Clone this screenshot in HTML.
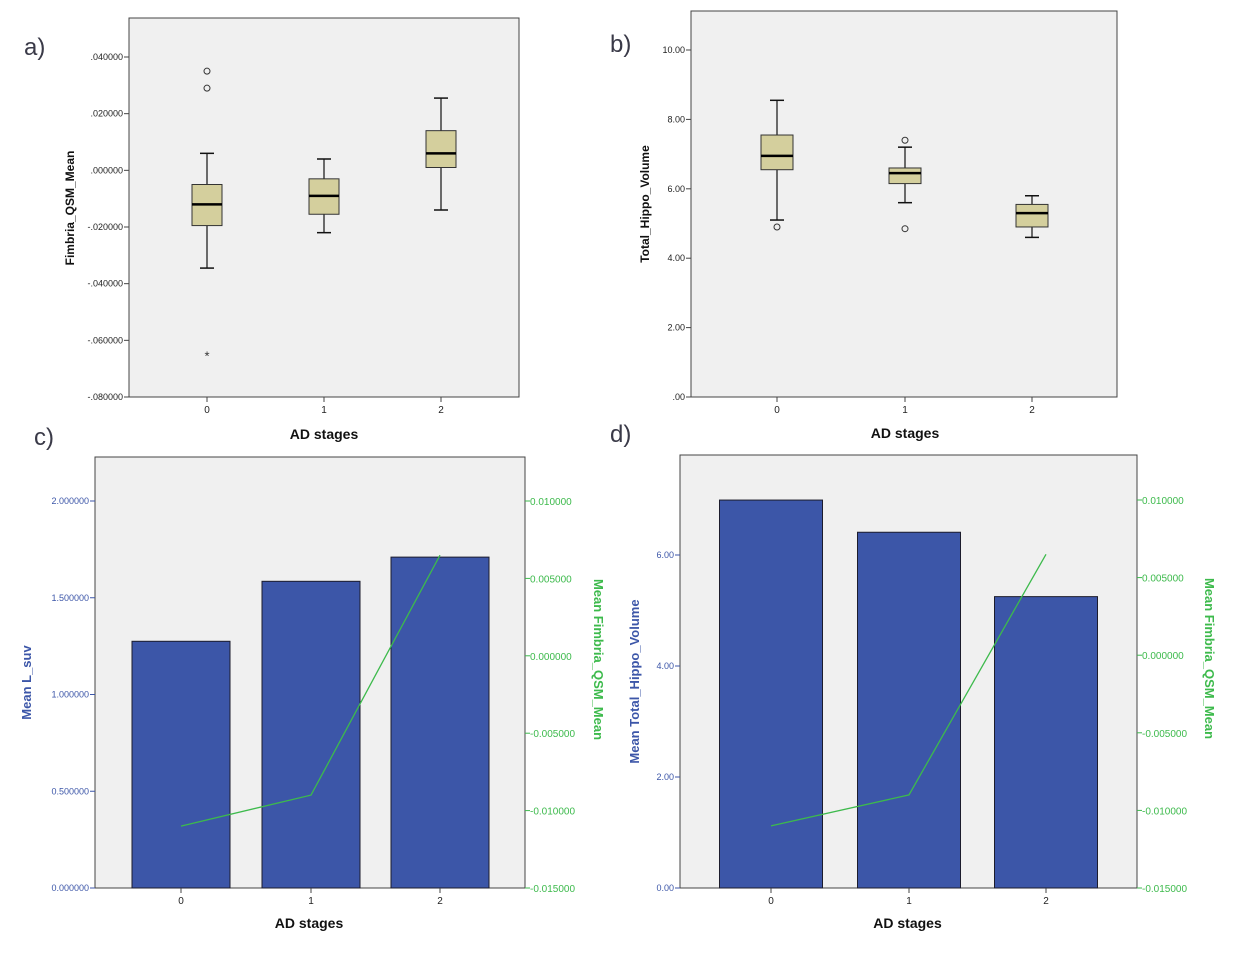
<!DOCTYPE html>
<html><head><meta charset="utf-8"><style>
html,body{margin:0;padding:0;background:#fff;width:1239px;height:954px;overflow:hidden;font-family:"Liberation Sans",sans-serif}
svg{display:block}
</style></head><body>
<svg id="s" width="1239" height="954" xmlns="http://www.w3.org/2000/svg"></svg>
<script>
// ---- data ----
const categories = ["0","1","2"];
// panel a: Fimbria_QSM_Mean boxplots
const aTicks = [0.04,0.02,0,-0.02,-0.04,-0.06,-0.08];
const aTickLabels = [".040000",".020000",".000000","-.020000","-.040000","-.060000","-.080000"];
const aQ1 = [-0.0195,-0.0155,0.001];
const aMed = [-0.012,-0.009,0.006];
const aQ3 = [-0.005,-0.003,0.014];
const aLo = [-0.0345,-0.022,-0.014];
const aHi = [0.006,0.004,0.0255];
const aOutliers = [[0.035,0.029],[],[]];
const aExtremes = [[-0.065],[],[]];
// panel b: Total_Hippo_Volume boxplots
const bTicks = [10,8,6,4,2,0];
const bTickLabels = ["10.00","8.00","6.00","4.00","2.00",".00"];
const bQ1 = [6.55,6.15,4.9];
const bMed = [6.95,6.45,5.3];
const bQ3 = [7.55,6.6,5.55];
const bLo = [5.1,5.6,4.6];
const bHi = [8.55,7.2,5.8];
const bOutliers = [[4.9],[7.4,4.85],[]];
// panel c: Mean L_suv bars + Fimbria line
const cBars = [1.275,1.585,1.71];
const cTicks = [2,1.5,1,0.5,0];
const cTickLabels = ["2.000000","1.500000","1.000000","0.500000","0.000000"];
// panel d: Mean Total_Hippo_Volume bars + Fimbria line
const dBars = [6.99,6.41,5.25];
const dTicks = [6,4,2,0];
const dTickLabels = ["6.00","4.00","2.00","0.00"];
// shared fimbria mean line
const qsmLine = [-0.011,-0.009,0.0065];
const rTicks = [0.01,0.005,0,-0.005,-0.01,-0.015];
const rTickLabels = ["0.010000","0.005000","0.000000","-0.005000","-0.010000","-0.015000"];

const NS="http://www.w3.org/2000/svg";
const svg=document.getElementById('s');
function mk(tag,attrs,parent,text){const e=document.createElementNS(NS,tag);for(const k in attrs)e.setAttribute(k,attrs[k]);if(text!==undefined)e.textContent=text;(parent||svg).appendChild(e);return e;}
function lin(d0,d1,r0,r1){return v=>r0+(v-d0)*(r1-r0)/(d1-d0);}

function frame(g,L,T,R,B){
  const r=mk('rect',{x:L,y:T,width:R-L,height:B-T,fill:'#f0f0f0',stroke:'#444','stroke-width':1},g);
  
  
}
function yAxis(g,y,ticks,labels,x,color,name){
  ticks.forEach((t,i)=>{
    mk('line',{x1:x-5,x2:x,y1:y(t),y2:y(t),stroke:color==='#222'?'#444':color},g);
    const tx=mk('text',{x:x-6,y:y(t)+3,'font-size':9,'text-anchor':'end',fill:color},g,labels[i]);
    
    
  });
}
function rAxis(g,y,x){
  rTicks.forEach((t,i)=>{
    mk('line',{x1:x,x2:x+5,y1:y(t),y2:y(t),stroke:'#3dba4c'},g);
    const tx=mk('text',{x:x+5,y:y(t)+4,'font-size':10,fill:'#3dba4c'},g,rTickLabels[i]);
    
    
  });
}
function xAxis(g,xs,B){
  categories.forEach((c,i)=>{
    mk('line',{x1:xs[i],x2:xs[i],y1:B,y2:B+5,stroke:'#444'},g);
    const tx=mk('text',{x:xs[i],y:B+16,'font-size':10,'text-anchor':'middle',fill:'#222'},g,c);
    
    
  });
}
function title(g,x,y,txt,rot,color,size,name){
  const t=mk('text',{x:x,y:y,'font-size':size,'font-weight':'bold','text-anchor':'middle',fill:color,transform:rot?`rotate(${rot} ${x} ${y})`:''},g,txt);
  
  
}
function panelLabel(x,y,t){
  const e=mk('text',{x:x,y:y,'font-size':24,fill:'#3a3a48'},svg,t);
  
  
}
function boxes(g,y,xs,w,q1,med,q3,lo,hi){
  categories.forEach((c,i)=>{
    const x=xs[i];
    const bg=mk('g',{},g);
    
    
    mk('line',{x1:x,x2:x,y1:y(hi[i]),y2:y(q3[i]),stroke:'#111','stroke-width':1.2},bg);
    mk('line',{x1:x,x2:x,y1:y(q1[i]),y2:y(lo[i]),stroke:'#111','stroke-width':1.2},bg);
    mk('line',{x1:x-7,x2:x+7,y1:y(hi[i]),y2:y(hi[i]),stroke:'#111','stroke-width':1.5},bg);
    mk('line',{x1:x-7,x2:x+7,y1:y(lo[i]),y2:y(lo[i]),stroke:'#111','stroke-width':1.5},bg);
    mk('rect',{x:x-w/2,y:y(q3[i]),width:w,height:y(q1[i])-y(q3[i]),fill:'#d4cf9d',stroke:'#333','stroke-width':1},bg);
    mk('line',{x1:x-w/2,x2:x+w/2,y1:y(med[i]),y2:y(med[i]),stroke:'#000','stroke-width':2.5},bg);
  });
}
function outl(g,y,xs,arr,name){
  arr.forEach((vs,i)=>vs.forEach(v=>{
    const c=mk('circle',{cx:xs[i],cy:y(v),r:3,fill:'none',stroke:'#333'},g);
    
    
  }));
}

// ---- panel a ----
{
  const g=mk('g',{});
  const L=129,R=519,T=18,B=397;
  const y=lin(0.04,-0.08,57,397);
  const xs=[207,324,441];
  frame(g,L,T,R,B);
  yAxis(g,y,aTicks,aTickLabels,L,'#222','y');
  xAxis(g,xs,B);
  boxes(g,y,xs,30,aQ1,aMed,aQ3,aLo,aHi);
  outl(g,y,xs,aOutliers,'outlier');
  aExtremes.forEach((vs,i)=>vs.forEach(v=>{
    const t=mk('text',{x:xs[i],y:y(v)+6,'font-size':13,'text-anchor':'middle',fill:'#333'},g,'*');
    
    
  }));
  title(g,74,208,'Fimbria_QSM_Mean',-90,'#111',12,'y-axis-title');
  title(g,324,439,'AD stages',0,'#111',14,'x-axis-title');
  panelLabel(24,55,'a)');
}
// ---- panel b ----
{
  const g=mk('g',{});
  const L=691,R=1117,T=11,B=397;
  const y=lin(10,0,50,397);
  const xs=[777,905,1032];
  frame(g,L,T,R,B);
  yAxis(g,y,bTicks,bTickLabels,L,'#222','y');
  xAxis(g,xs,B);
  boxes(g,y,xs,32,bQ1,bMed,bQ3,bLo,bHi);
  outl(g,y,xs,bOutliers,'outlier');
  title(g,649,204,'Total_Hippo_Volume',-90,'#111',12,'y-axis-title');
  title(g,905,438,'AD stages',0,'#111',14,'x-axis-title');
  panelLabel(610,52,'b)');
}
function barPanel(name,L,R,T,B,xs,bw,bars,lTicks,lLabels,yl,yr,ylTitle,ylx,rtx,lbl,lx,ly){
  const g=mk('g',{});
  frame(g,L,T,R,B);
  bars.forEach((v,i)=>{
    const r=mk('rect',{x:xs[i]-bw/2,y:yl(v),width:bw,height:B-yl(v),fill:'#3c56a8',stroke:'#1c1c2c','stroke-width':1},g);
    
    
  });
  const pts=qsmLine.map((v,i)=>xs[i]+','+yr(v)).join(' ');
  const pl=mk('polyline',{points:pts,fill:'none',stroke:'#3dba4c','stroke-width':1.3},g);
  
  
  yAxis(g,yl,lTicks,lLabels,L,'#3c56a8','left-y');
  rAxis(g,yr,R);
  xAxis(g,xs,B);
  title(g,ylx,(T+B)/2+10,ylTitle,-90,'#3c56a8',13,'left-y-axis-title');
  title(g,rtx,(T+B)/2-13,'Mean Fimbria_QSM_Mean',90,'#3dba4c',13,'right-y-axis-title');
  title(g,(L+R)/2-1,928,'AD stages',0,'#111',14,'x-axis-title');
  panelLabel(lx,ly,lbl);
}
barPanel('panel-c-bar-line',95,525,457,888,[181,311,440],98,cBars,cTicks,cTickLabels,
  lin(0,2,888,501),lin(-0.015,0.01,888,501),'Mean L_suv',31,594,'c)',34,445);
barPanel('panel-d-bar-line',680,1137,455,888,[771,909,1046],103,dBars,dTicks,dTickLabels,
  lin(0,6,888,555),lin(-0.015,0.01,888,500),'Mean Total_Hippo_Volume',639,1205,'d)',610,442);
</script>
</body></html>
